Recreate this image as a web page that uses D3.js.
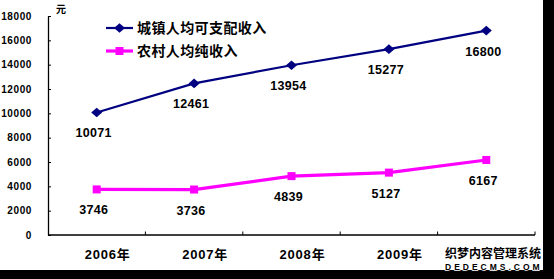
<!DOCTYPE html>
<html>
<head>
<meta charset="utf-8">
<script src="https://cdn.jsdelivr.net/npm/d3@7"></script>
<style>
  body { margin: 0; background: #fff; }
  svg text { font-family: "Liberation Sans", Arial, "Noto Sans CJK SC", sans-serif; font-weight: bold; }
  .cjk { font-family: "Noto Sans CJK SC", sans-serif; }
</style>
</head>
<body>
<div id="chart"></div>
<script>
var years       = ["2006年", "2007年", "2008年", "2009年", ""];
var urban       = [10071, 12461, 13954, 15277, 16800];
var rural       = [3746, 3736, 4839, 5127, 6167];
var y_ticks     = [0, 2000, 4000, 6000, 8000, 10000, 12000, 14000, 16000, 18000];
var series_names = ["城镇人均可支配收入", "农村人均纯收入"];

var chart_width  = 554;
var chart_height = 279;

var svg = d3.select("#chart")
    .append("svg")
    .attr("width", chart_width)
    .attr("height", chart_height);

svg.append("rect")
    .attr("width", chart_width)
    .attr("height", chart_height)
    .attr("fill", "#fff");

// scales
var x_scale = d3.scaleBand()
    .domain(d3.range(years.length))
    .range([48, 535])
    .padding(0);

var y_scale = d3.scaleLinear()
    .domain([0, 18000])
    .range([235, 16]);

// y axis
var y_axis = d3.axisLeft(y_scale)
    .tickValues(y_ticks)
    .tickFormat(d3.format("d"))
    .tickSizeInner(-3)
    .tickSizeOuter(0)
    .tickPadding(16);

var gy = svg.append("g")
    .attr("transform", "translate(48,0)")
    .call(y_axis);
gy.select(".domain").attr("stroke", "#000").attr("stroke-width", 1.3);
gy.selectAll(".tick line").attr("stroke", "#000");
gy.selectAll(".tick text")
    .attr("font-size", 10)
    .attr("letter-spacing", 0.6)
    .attr("fill", "#000");

// x axis
svg.append("line")
    .attr("x1", 48).attr("x2", 535)
    .attr("y1", 235).attr("y2", 235)
    .attr("stroke", "#000")
    .attr("stroke-width", 1.3);

svg.selectAll(".xtick")
    .data(d3.range(years.length))
    .enter()
    .append("line")
    .attr("class", "xtick")
    .attr("x1", function(d){ return x_scale(d) + x_scale.bandwidth(); })
    .attr("x2", function(d){ return x_scale(d) + x_scale.bandwidth(); })
    .attr("y1", 235)
    .attr("y2", 231.5)
    .attr("stroke", "#000");

svg.selectAll(".xlabel")
    .data(years)
    .enter()
    .append("text")
    .attr("class", "xlabel")
    .attr("x", function(d, i){ return x_scale(i) + x_scale.bandwidth() / 2 + 11; })
    .attr("y", 259)
    .attr("text-anchor", "middle")
    .attr("font-size", 13)
    .attr("letter-spacing", 0.8)
    .text(function(d){ return d; });

// unit
svg.append("text")
    .attr("class", "cjk")
    .attr("x", 56)
    .attr("y", 13)
    .attr("font-size", 10)
    .text("元");

// lines
var line = d3.line()
    .x(function(d, i){ return x_scale(i) + x_scale.bandwidth() / 2; })
    .y(function(d){ return y_scale(d); });

svg.append("path")
    .datum(rural)
    .attr("d", line)
    .attr("fill", "none")
    .attr("stroke", "#FF00FF")
    .attr("stroke-width", 3.2);

svg.append("path")
    .datum(urban)
    .attr("d", line)
    .attr("fill", "none")
    .attr("stroke", "#000080")
    .attr("stroke-width", 2.2);

var diamond = "M-5.5,0L0,-4.8L5.5,0L0,4.8Z";

svg.selectAll(".urban-pt")
    .data(urban)
    .enter()
    .append("path")
    .attr("class", "urban-pt")
    .attr("d", diamond)
    .attr("transform", function(d, i){
        return "translate(" + (x_scale(i) + x_scale.bandwidth() / 2) + "," + y_scale(d) + ")";
    })
    .attr("fill", "#000080");

svg.selectAll(".rural-pt")
    .data(rural)
    .enter()
    .append("rect")
    .attr("class", "rural-pt")
    .attr("x", function(d, i){ return x_scale(i) + x_scale.bandwidth() / 2 - 4; })
    .attr("y", function(d){ return y_scale(d) - 4; })
    .attr("width", 8)
    .attr("height", 8)
    .attr("fill", "#FF00FF");

// value labels
function addLabels(values, cls) {
    svg.selectAll("." + cls)
        .data(values)
        .enter()
        .append("text")
        .attr("class", cls)
        .attr("x", function(d, i){ return x_scale(i) + x_scale.bandwidth() / 2 - 3; })
        .attr("y", function(d){ return y_scale(d) + 25; })
        .attr("text-anchor", "middle")
        .attr("font-size", 12.5)
        .attr("letter-spacing", 0.3)
        .text(function(d){ return d; });
}
addLabels(urban, "urban-lbl");
addLabels(rural, "rural-lbl");

// legend
var legend_colors = ["#000080", "#FF00FF"];
var lg = svg.selectAll(".legend")
    .data(series_names)
    .enter()
    .append("g")
    .attr("class", "legend")
    .attr("transform", function(d, i){ return "translate(106," + (28 + i * 23) + ")"; });

lg.append("line")
    .attr("x1", 0).attr("x2", 27)
    .attr("stroke", function(d, i){ return legend_colors[i]; })
    .attr("stroke-width", function(d, i){ return i == 0 ? 2.2 : 3.2; });

lg.append("path")
    .attr("d", function(d, i){
        return i == 0 ? diamond : "M-4,-4H4V4H-4Z";
    })
    .attr("transform", "translate(13.5,0)")
    .attr("fill", function(d, i){ return legend_colors[i]; });

lg.append("text")
    .attr("class", "cjk")
    .attr("x", 31)
    .attr("y", 5)
    .attr("font-size", 14)
    .attr("letter-spacing", 0.4)
    .text(function(d){ return d; });

// frame
svg.append("rect")
    .attr("x", 543).attr("y", 0)
    .attr("width", 11).attr("height", chart_height)
    .attr("fill", "#000");
svg.append("rect")
    .attr("x", 0).attr("y", 270)
    .attr("width", chart_width).attr("height", 9)
    .attr("fill", "#000");

// watermark
svg.append("text")
    .attr("class", "cjk")
    .attr("x", 445)
    .attr("y", 258)
    .attr("font-size", 12)
    .attr("stroke", "#fff")
    .attr("stroke-width", 2)
    .attr("paint-order", "stroke")
    .text("织梦内容管理系统");
svg.append("text")
    .attr("x", 445)
    .attr("y", 269.5)
    .attr("font-size", 8.5)
    .attr("letter-spacing", 3)
    .attr("stroke", "#fff")
    .attr("stroke-width", 1.5)
    .attr("paint-order", "stroke")
    .text("DEDECMS.COM");
</script>
</body>
</html>
